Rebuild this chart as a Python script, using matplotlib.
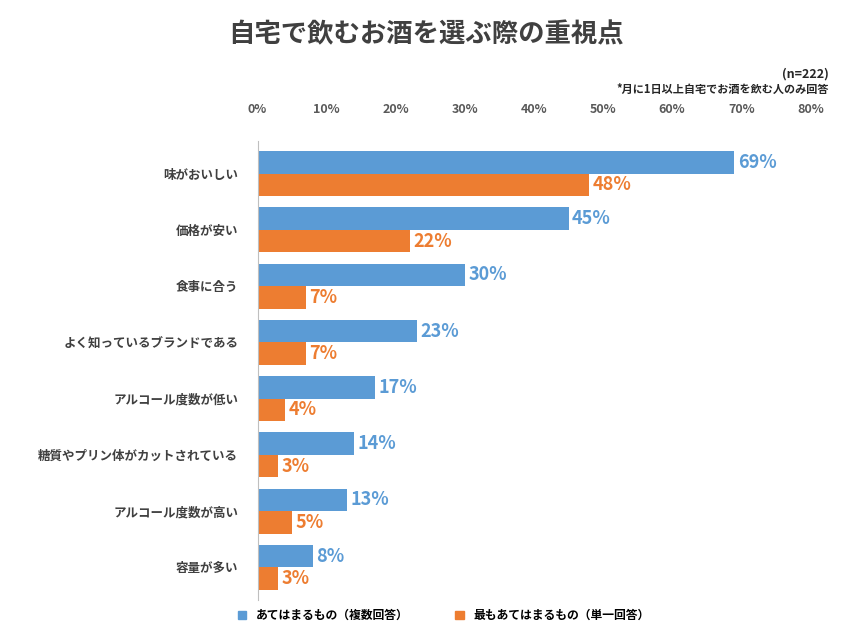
import matplotlib
matplotlib.use("Agg")
import matplotlib.pyplot as plt
import numpy as np

plt.rcParams["font.family"] = "Noto Sans CJK JP"

categories = ["味がおいしい", "価格が安い", "食事に合う", "よく知っているブランドである",
              "アルコール度数が低い", "糖質やプリン体がカットされている", "アルコール度数が高い", "容量が多い"]
multi = [69, 45, 30, 23, 17, 14, 13, 8]
single = [48, 22, 7, 7, 4, 3, 5, 3]
ticks = [0, 10, 20, 30, 40, 50, 60, 70, 80]
blue = "#5B9BD5"
orange = "#ED7D31"

fig = plt.figure(figsize=(8.53, 6.4), dpi=100)
ax = fig.add_axes([0.302, 0.0625, 0.648, 0.717])
n = len(categories)
y = np.arange(n)
h = 0.4
ax.barh(y - h/2, multi, height=h, color=blue)
ax.barh(y + h/2, single, height=h, color=orange)
for i in range(n):
    ax.text(multi[i] + 0.5, y[i] - h/2, f"{multi[i]}%", va="center", ha="left",
            color=blue, fontsize=13, fontweight="bold")
    ax.text(single[i] + 0.5, y[i] + h/2, f"{single[i]}%", va="center", ha="left",
            color=orange, fontsize=13, fontweight="bold")
ax.set_ylim(n - 0.5 + 0.08, -0.5 - 0.08)
ax.set_xlim(0, 80)
ax.set_yticks(y)
ax.set_yticklabels(categories, fontsize=9, fontweight="bold", color="#404040")
ax.set_xticks(ticks)
ax.set_xticklabels([f"{t}%" for t in ticks], fontsize=9, fontweight="bold", color="#595959")
ax.xaxis.tick_top()
ax.tick_params(length=0, pad=18)
ax.tick_params(axis="y", pad=14)
for s in ["top", "right", "bottom"]:
    ax.spines[s].set_visible(False)
ax.spines["left"].set_color("#BFBFBF")

fig.text(0.5, 0.945, "自宅で飲むお酒を選ぶ際の重視点", ha="center", va="center",
         fontsize=19, fontweight="bold", color="#404040")
fig.text(0.972, 0.885, "(n=222)", ha="right", va="center", fontsize=9, fontweight="bold", color="#262626")
fig.text(0.972, 0.86, "*月に1日以上自宅でお酒を飲む人のみ回答", ha="right", va="center",
         fontsize=8, fontweight="bold", color="#262626")

from matplotlib.patches import Patch
fig.legend(handles=[Patch(color=blue, label="あてはまるもの（複数回答）"),
                    Patch(color=orange, label="最もあてはまるもの（単一回答）")],
           loc="center", bbox_to_anchor=(0.52, 0.038), ncol=2, frameon=False,
           prop={"size": 8.5, "weight": "bold"}, handlelength=0.7, handleheight=0.7,
           columnspacing=4)
fig.savefig("out.png", dpi=100)
